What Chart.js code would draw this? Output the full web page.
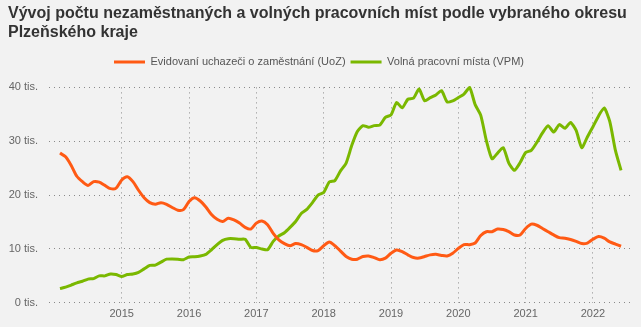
<!DOCTYPE html>
<html lang="cs">
<head>
<meta charset="utf-8">
<title>Nezaměstnaní a volná místa</title>
<script src="https://cdn.jsdelivr.net/npm/chart.js@4"></script>
<style>
  html, body { margin: 0; padding: 0; background: #f2f2f2; }
  #wrap { width: 641px; height: 327px; }
</style>
</head>
<body>
<div id="wrap"><canvas id="jobsChart" width="641" height="327"></canvas></div>
<script>
// monthly series, Jan 2014 .. May 2022, values in thousands
const startYear = 2014;
const yearTicks = [2015, 2016, 2017, 2018, 2019, 2020, 2021, 2022];
const valueTicks = [0, 10, 20, 30, 40];

const uozValues = [
  27.8, 27.1, 25.5, 23.5, 22.5, 21.8, 22.5, 22.4, 21.8, 21.2, 21.3, 22.8,
  23.4, 22.5, 20.9, 19.5, 18.6, 18.3, 18.6, 18.3, 17.7, 17.2, 17.3, 18.8,
  19.5, 18.9, 17.8, 16.4, 15.5, 15.1, 15.7, 15.4, 14.8, 14.0, 13.7, 14.8,
  15.2, 14.5, 12.9, 11.7, 11.0, 10.6, 11.0, 10.8, 10.3, 9.7, 9.7, 10.6,
  11.3, 10.6, 9.6, 8.6, 8.1, 8.1, 8.6, 8.7, 8.4, 8.0, 8.3, 9.2,
  9.8, 9.5, 8.9, 8.4, 8.3, 8.6, 8.9, 9.0, 8.8, 8.7, 9.2, 10.1,
  10.8, 10.8, 11.1, 12.5, 13.2, 13.2, 13.7, 13.6, 13.2, 12.6, 12.6, 13.8,
  14.6, 14.4, 13.8, 13.2, 12.6, 12.1, 12.0, 11.75, 11.4, 11.0, 11.1, 11.8,
  12.3, 12.0, 11.3, 10.9, 10.5
];

const vpmValues = [
  2.65, 2.9, 3.3, 3.7, 4.0, 4.4, 4.5, 5.0, 5.0, 5.35, 5.25, 4.9,
  5.25, 5.35, 5.65, 6.3, 6.95, 7.0, 7.55, 8.1, 8.15, 8.1, 8.0, 8.5,
  8.55, 8.7, 9.0, 9.85, 10.8, 11.6, 11.9, 11.9, 11.8, 11.8, 10.3, 10.25,
  10.0, 9.85, 11.4, 12.4, 13.0, 14.0, 15.1, 16.6, 17.35, 18.6, 20.0, 20.5,
  22.45, 22.7, 24.5, 25.95, 29.2, 31.8, 32.9, 32.6, 32.9, 33.0, 34.45, 34.9,
  37.2, 36.2, 37.8, 38.0, 39.7, 37.5, 38.1, 38.6, 39.4, 37.3, 37.5, 38.1,
  38.75, 40.0, 36.8, 34.8, 30.1, 26.75, 27.8, 28.8, 25.95, 24.6, 26.0, 27.9,
  28.3, 29.8, 31.55, 32.9, 31.7, 33.1, 32.4, 33.5, 32.0, 28.8, 30.8, 32.7,
  34.7, 36.2, 33.65, 28.3, 24.6
];

// each value is plotted at the end of its month
const toPoints = vals => vals.map((v, i) => ({ x: startYear + (i + 1) / 12, y: v }));

const font = 'Liberation Sans, Arial, sans-serif';
const ctx = document.getElementById('jobsChart').getContext('2d');

// leave a bit more room between the legend row and the plot
const legendGap = {
  id: 'legendGap',
  beforeLayout(chart) {
    const lg = chart.legend;
    if (!lg || lg._gapAdded) return;
    const fit = lg.fit;
    lg.fit = function () { fit.call(this); this.height += 10; };
    lg._gapAdded = true;
  }
};

new Chart(ctx, {
  type: 'line',
  data: {
    datasets: [{
      label: 'Evidovaní uchazeči o zaměstnání (UoZ)',
      data: toPoints(uozValues),
      borderColor: '#ff5a14',
      backgroundColor: '#ff5a14',
      borderWidth: 3,
      tension: 0.25,
      pointRadius: 0,
      clip: false
    }, {
      label: 'Volná pracovní místa (VPM)',
      data: toPoints(vpmValues),
      borderColor: '#7ab800',
      backgroundColor: '#7ab800',
      borderWidth: 3,
      tension: 0.2,
      pointRadius: 0,
      clip: false
    }]
  },
  options: {
    responsive: false,
    animation: false,
    layout: { padding: { left: 8, right: 11, top: 0, bottom: 1 } },
    scales: {
      x: {
        type: 'linear',
        min: 2013.92,
        max: 2022.55,
        afterBuildTicks: s => { s.ticks = yearTicks.map(v => ({ value: v })); },
        grid: { color: '#8a8a8a', drawTicks: false },
        border: { display: false, dash: [1, 4] },
        ticks: {
          color: '#666',
          font: { family: font, size: 11 },
          padding: 5,
          maxRotation: 0,
          callback: v => String(v)
        }
      },
      y: {
        min: 0,
        max: 40,
        afterBuildTicks: s => { s.ticks = valueTicks.map(v => ({ value: v })); },
        afterFit: s => { s.width = 41; },
        grid: { color: '#8a8a8a', drawTicks: false },
        border: { display: false, dash: [1, 4] },
        ticks: {
          color: '#666',
          font: { family: font, size: 11 },
          padding: 11,
          callback: v => v + ' tis.'
        }
      }
    },
    plugins: {
      title: {
        display: true,
        align: 'start',
        text: ['Vývoj počtu nezaměstnaných a volných pracovních míst podle vybraného okresu', 'Plzeňského kraje'],
        color: '#333',
        font: { family: font, size: 16, weight: 'bold', lineHeight: 1.2 },
        padding: { top: 4, bottom: 9 }
      },
      legend: {
        position: 'top',
        labels: {
          color: '#555',
          font: { family: font, size: 11 },
          boxWidth: 31,
          boxHeight: 0,
          padding: 5
        }
      },
      tooltip: { enabled: false }
    }
  },
  plugins: [legendGap]
});
</script>
</body>
</html>
